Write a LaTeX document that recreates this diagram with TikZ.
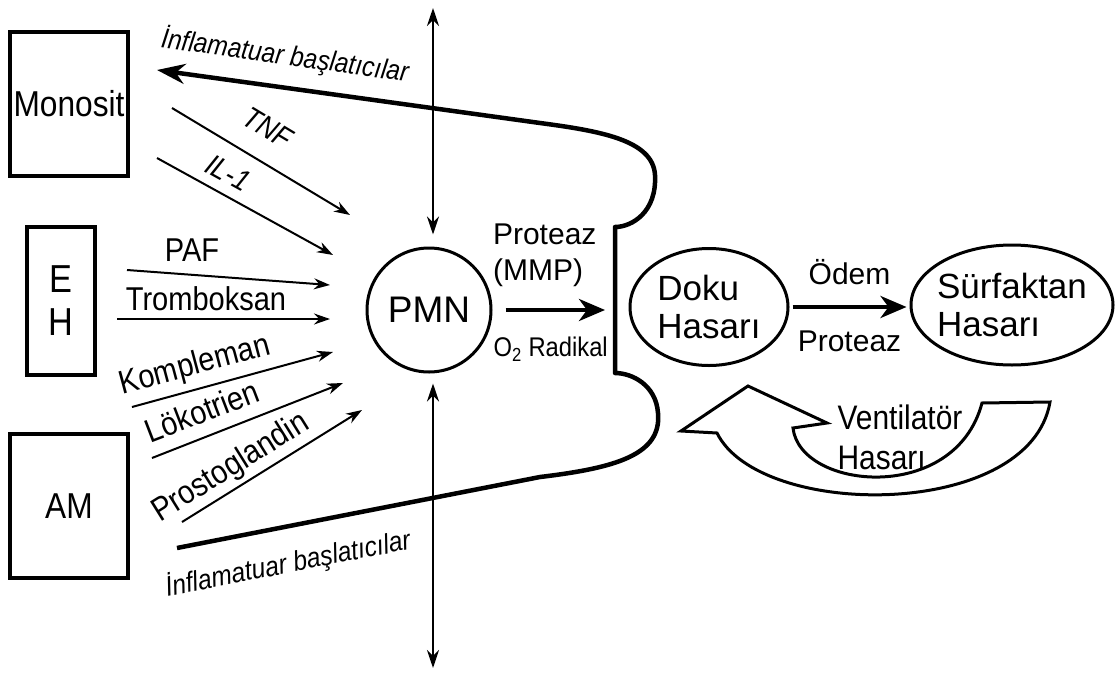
\documentclass[tikz,border=0pt]{standalone}
\usepackage{fontspec}
\setmainfont{Liberation Sans}
\newfontfamily\narrowfont[FakeStretch=0.88]{Liberation Sans}
\usetikzlibrary{shapes.geometric, arrows.meta}

\newcommand{\boxfont}{\narrowfont\fontsize{36pt}{43pt}\selectfont}
\newcommand{\ehfont}{\narrowfont\fontsize{39pt}{43pt}\selectfont}
\newcommand{\pmnfont}{\fontsize{37pt}{40pt}\selectfont}
\newcommand{\hasarfont}{\fontsize{35pt}{38pt}\selectfont}
\newcommand{\medfont}{\narrowfont\fontsize{33pt}{38pt}\selectfont}
\newcommand{\medifont}{\narrowfont\itshape\fontsize{30pt}{34pt}\selectfont}
\newcommand{\inflfont}{\narrowfont\itshape\fontsize{28pt}{32pt}\selectfont}
\newcommand{\lblfont}{\fontsize{30pt}{36pt}\selectfont}
\newcommand{\radfont}{\narrowfont\fontsize{27pt}{30pt}\selectfont}
\newcommand{\ventfont}{\narrowfont\fontsize{34pt}{40pt}\selectfont}

\begin{document}
\begin{tikzpicture}[
    x=1pt, y=-1pt,
    every node/.style={inner sep=0pt},
    cell/.style={draw, rectangle, line width=4.5pt, minimum width=118pt, minimum height=144pt, align=center, font=\boxfont},
    pmn/.style={draw, circle, line width=3pt, minimum size=124pt, font=\pmnfont},
    damage/.style={draw, ellipse, line width=3pt, align=left, font=\hasarfont},
    medlbl/.style={font=\medfont},
    med arrow/.style={draw, line width=2pt, -{Stealth[length=16pt, width=11pt]}},
    vert/.style={draw, line width=2.5pt, {Stealth[length=18pt, width=12pt]}-{Stealth[length=18pt, width=12pt]}},
    thick arrow/.style={draw, line width=4pt, -{Stealth[length=26pt, width=22pt, inset=8pt]}},
    infl/.style={draw, line width=4.5pt, line join=round, -{Stealth[length=28pt, width=20pt]}},
    vent/.style={draw, line width=3pt, line join=miter, fill=white}
  ]
  \useasboundingbox (0,0) rectangle (1117,675);

  % cells
  \node[cell] (Monosit) at (69,104) {Monosit};
  \node[cell, minimum width=68pt, minimum height=148pt, font=\ehfont] (EH) at (61,301) {E\\H};
  \node[cell] (AM) at (69,506) {AM};

  \node[pmn] (PMN) at (429,310) {PMN};
  \node[damage, minimum width=158pt, minimum height=117pt] (Doku) at (709,307) {Doku\\Hasarı};
  \node[damage, minimum width=202pt, minimum height=120pt, inner xsep=-16pt] (Surf) at (1012,305) {Sürfaktan\\Hasarı};

  % vertical arrows through PMN
  \coordinate (vtop) at (433,8);
  \coordinate (vbot) at (433,668);
  \draw[vert, shorten >=12pt] (vtop) -- (vtop |- PMN.north);
  \draw[vert, shorten <=10pt] (vtop |- PMN.south) -- (vbot);

  % mediators
  \coordinate (tnf1) at (172,108);  \coordinate (tnf2) at (350,215);
  \coordinate (il1) at (157,158);   \coordinate (il2) at (333,255);
  \coordinate (paf1) at (127,270);  \coordinate (paf2) at (330,285);
  \coordinate (trb1) at (117,319);  \coordinate (trb2) at (330,319);
  \coordinate (kom1) at (132,407);  \coordinate (kom2) at (333,352);
  \coordinate (lok1) at (152,458);  \coordinate (lok2) at (343,383);
  \coordinate (pro1) at (182,522);  \coordinate (pro2) at (362,410);

  \draw[med arrow] (tnf1) -- (tnf2);
  \draw[med arrow] (il1) -- (il2);
  \draw[med arrow] (paf1) -- (paf2);
  \draw[med arrow] (trb1) -- (trb2);
  \draw[med arrow] (kom1) -- (kom2);
  \draw[med arrow] (lok1) -- (lok2);
  \draw[med arrow] (pro1) -- (pro2);

  \node[medlbl, font=\medifont, rotate=-31] (tnf) at (268,128) {TNF};
  \node[medlbl, font=\medifont, rotate=-29] (il) at (228,173) {IL-1};
  \node[medlbl] (paf) at (192,250) {PAF};
  \node[medlbl] (trb) at (206,299) {Tromboksan};
  \node[medlbl, rotate=15] (kom) at (195,366) {Kompleman};
  \node[medlbl, rotate=21] (lok) at (202,411) {Lökotrien};
  \node[medlbl, rotate=32] (pro) at (231,468) {Prostoglandin};

  % inflamatuar baslaticilar, AM -> bracket -> Monosit
  \coordinate (amout) at (177,548);
  \coordinate (monoin) at (157,70);
  \coordinate (brbot) at (615,373);
  \coordinate (brtop) at (615,227);
  \draw[infl] (amout) -- (540,477) .. controls (615,468) and (662,455) .. (658,413)
    .. controls (656,385) and (632,373) .. (brbot) -- (brtop)
    .. controls (632,227) and (657,212) .. (655,175)
    .. controls (653,140) and (600,131) .. (540,123) -- (monoin);
  \node[font=\inflfont, rotate=-8] (infltop) at (285,56) {İnflamatuar başlatıcılar};
  \node[font=\inflfont, rotate=11] (inflbot) at (288,564) {İnflamatuar başlatıcılar};

  % PMN -> bracket
  \draw[thick arrow, shorten <=13pt, shorten >=10pt] (PMN.east) -- (PMN.east -| brtop)
    node[midway, above=21pt, xshift=-9pt, align=left, font=\lblfont] (prot) {Proteaz\\(MMP)}
    node[midway, below=25pt, xshift=-3pt, font=\radfont] (rad) {O\textsubscript{2} Radikal};

  % Doku -> Surfaktan
  \draw[thick arrow, shorten <=3pt, shorten >=3pt] (Doku.east) -- (Doku.east -| Surf.west)
    node[midway, above=20pt, font=\lblfont] (odem) {Ödem}
    node[midway, below=22pt, font=\lblfont] (prot2) {Proteaz};

  % ventilator
  \draw[vent] (681,431) -- (748,386) -- (827,423) -- (793,428)
    .. controls (800,490) and (955,505) .. (982,403) -- (1050,402)
    .. controls (1030,520) and (760,520) .. (717,433) -- cycle;
  \node[align=left, font=\ventfont] (ventlbl) at (900,437) {Ventilatör\\Hasarı};
\end{tikzpicture}
\end{document}
